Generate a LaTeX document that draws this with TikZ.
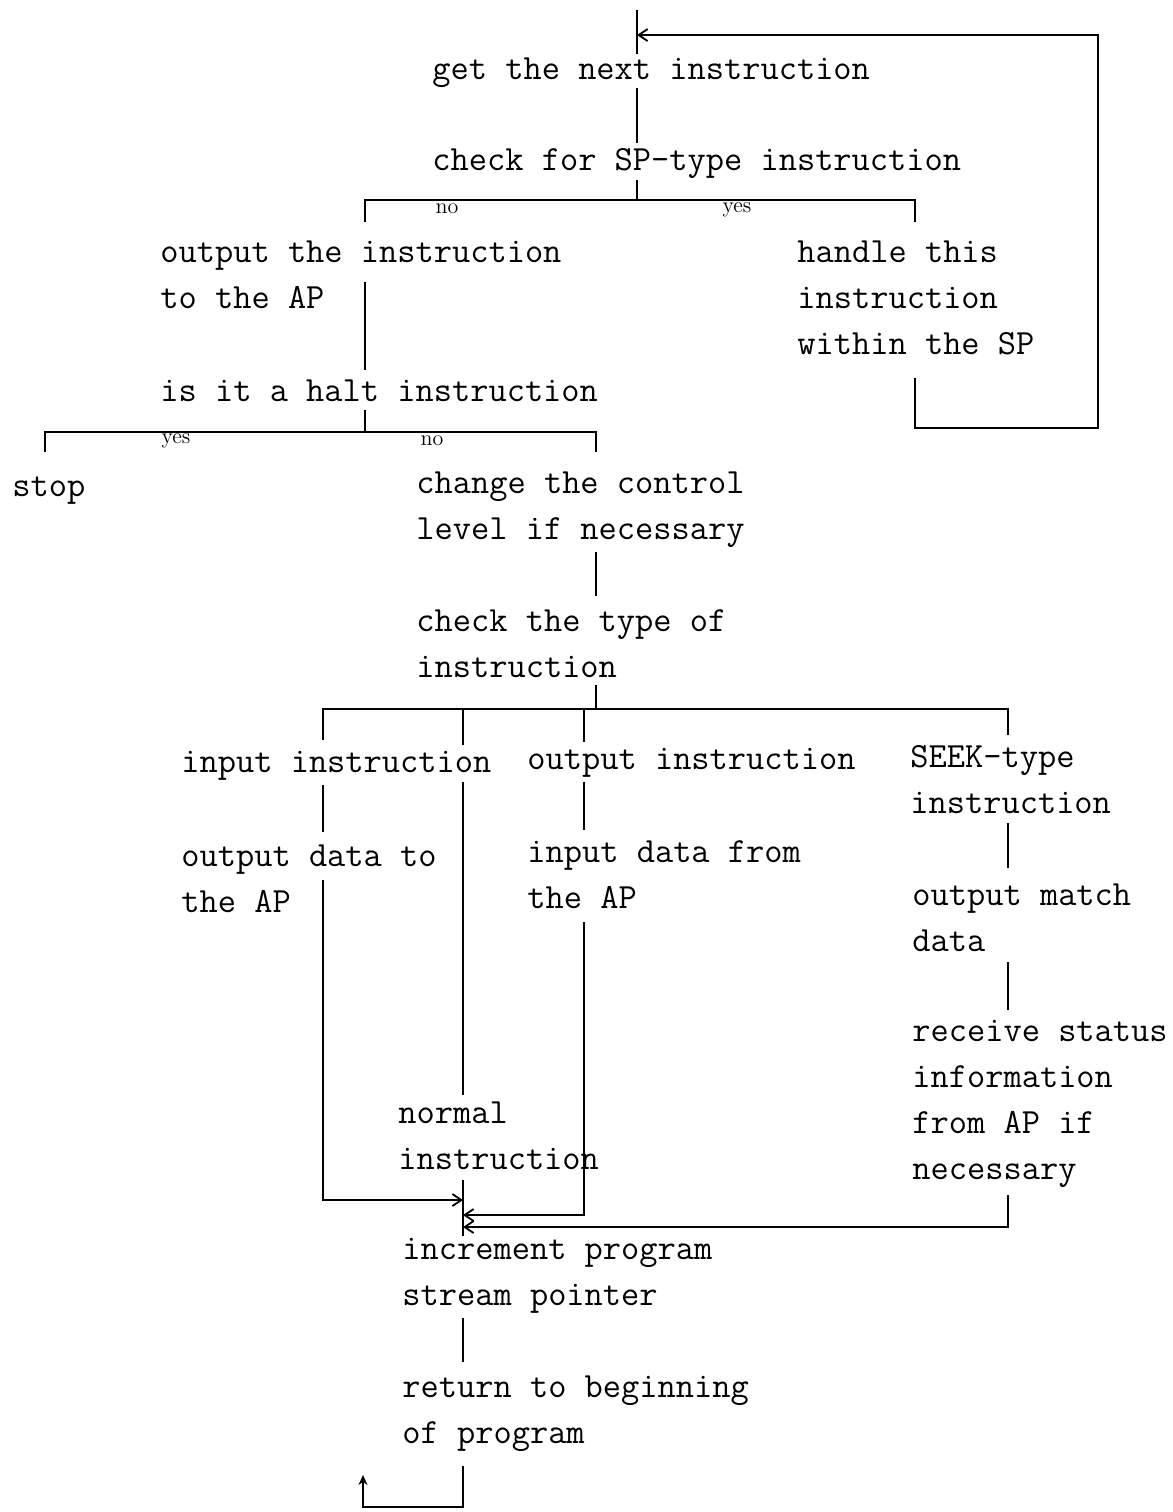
\documentclass[tikz,border=0pt]{standalone}
\usepackage{fontspec}
\usetikzlibrary{arrows.meta}
\begin{document}
\begin{tikzpicture}[x=0.5pt,y=-0.5pt,
  % multi-line labels are placed by the baseline of their last line
  lbl/.style={anchor=base west, inner sep=0pt, align=left,
    font=\ttfamily\fontsize{17.7}{23}\selectfont},
  tag/.style={inner sep=0pt, font=\fontsize{11}{11}\selectfont},
  wire/.style={line width=0.9pt},
  flow/.style={wire, -{Straight Barb[length=4.5pt,width=6pt]}}]
\useasboundingbox (0,0) rectangle (1173,1512);

% text blocks
\node[lbl] (get)  at (432,79)   {get the next instruction};
\node[lbl] (chk)  at (432,170)  {check for SP-type instruction};
\node[lbl] (out)  at (160,308)  {output the instruction\\to the AP};
\node[lbl] (hdl)  at (797,354)  {handle this\\instruction\\within the SP};
\node[lbl] (halt) at (160,401)  {is it a halt instruction};
\node[lbl] (stop) at (12,496)   {stop};
\node[lbl] (chg)  at (416,539)  {change the control\\level if necessary};
\node[lbl] (typ)  at (416,677)  {check the type of\\instruction};
\node[lbl] (inp)  at (181,772)  {input instruction};
\node[lbl] (outi) at (527,769)  {output instruction};
\node[lbl] (seek) at (910,813)  {SEEK-type\\instruction};
\node[lbl] (odat) at (181,912)  {output data to\\the AP};
\node[lbl] (idat) at (527,908)  {input data from\\the AP};
\node[lbl] (omat) at (912,951)  {output match\\data};
\node[lbl] (rcv)  at (912,1179) {receive status\\information\\from AP if\\necessary};
\node[lbl] (norm) at (398,1169) {normal\\instruction};
\node[lbl] (inc)  at (402,1305) {increment program\\stream pointer};
\node[lbl] (ret)  at (402,1443) {return to beginning\\of program};

% branch labels
\node[tag] (no1)  at (447,209) {no};
\node[tag] (yes1) at (737,210) {yes};
\node[tag] (yes2) at (176,441) {yes};
\node[tag] (no2)  at (432,441) {no};

% junction points
\coordinate (entry) at (637,10);
\coordinate (loop)  at (637,35);
\coordinate (b1)    at (637,200);
\coordinate (b1l)   at (365,200);
\coordinate (b1r)   at (915,200);
\coordinate (b2)    at (365,432);
\coordinate (b2l)   at (45,432);
\coordinate (b2r)   at (596,432);
\coordinate (b3)    at (596,709);
\coordinate (b3a)   at (323,709);
\coordinate (b3b)   at (463,709);
\coordinate (b3c)   at (584,709);
\coordinate (b3d)   at (1008,709);
\coordinate (m1)    at (463,1200);
\coordinate (m2)    at (463,1215);
\coordinate (m3)    at (463,1227);
\coordinate (back)  at (363,1475);

% main spine
\draw[wire] (entry) -- (637,54);
\draw[wire] (637,88) -- (637,143);
\draw[wire] (637,180) -- (b1);

% SP-type branch
\draw[wire] (365,222) -- (b1l) -- (b1r) -- (915,222);
\draw[flow] (915,378) -- (915,428) -- (1098,428) -- (1098,35) -- (loop);

% instruction sent to the AP
\draw[wire] (365,282) -- (365,370);
\draw[wire] (365,410) -- (b2);
\draw[wire] (45,452) -- (b2l) -- (b2r) -- (596,452);
\draw[wire] (596,552) -- (596,596);
\draw[wire] (596,685) -- (b3);

% four-way split on instruction type
\draw[wire] (323,740) -- (b3a) -- (b3d) -- (1008,735);
\draw[wire] (b3b) -- (463,745);
\draw[wire] (b3c) -- (584,742);

% input instruction
\draw[wire] (323,785) -- (323,832);
\draw[flow] (323,880) -- (323,1200) -- (m1);

% normal instruction
\draw[wire] (463,782) -- (463,1095);

% output instruction
\draw[wire] (584,782) -- (584,830);
\draw[flow] (584,922) -- (584,1215) -- (m2);

% SEEK-type instruction
\draw[wire] (1008,823) -- (1008,868);
\draw[wire] (1008,962) -- (1008,1010);
\draw[flow] (1008,1195) -- (1008,1227) -- (m3);

% common tail
\draw[wire] (463,1180) -- (463,1236);
\draw[wire] (463,1318) -- (463,1362);
\draw[wire, -{Stealth[length=5pt,width=4.5pt]}]
  (463,1466) -- (463,1507) -- (363,1507) -- (back);
\end{tikzpicture}
\end{document}
